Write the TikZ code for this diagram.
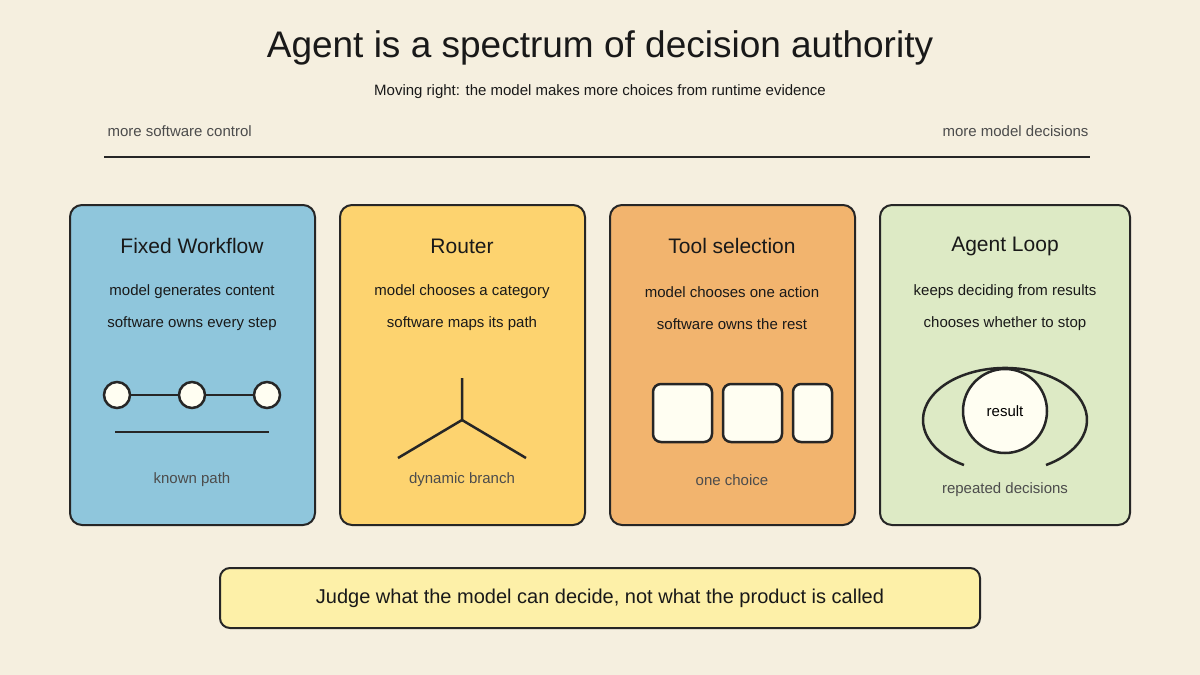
\documentclass[tikz,border=0pt]{standalone}
\usepackage{fontspec}
\setmainfont{Liberation Sans}
\begin{document}
\begin{tikzpicture}[x=1pt,y=-1pt,
 panel/.style={draw=black!85,line width=2pt,rounded corners=12pt},
 ttl/.style={font=\fontsize{21}{24}\selectfont,text=black!90},
 sub/.style={font=\fontsize{15}{18}\selectfont,text=black!90},
 lbl/.style={font=\fontsize{15}{18}\selectfont,text=black!70},
 ln/.style={draw=black!85,line width=2.5pt},
 wbox/.style={draw=black!85,line width=2.5pt,fill=white!95!yellow}]
\fill[fill={rgb,255:red,245;green,239;blue,223}] (0,0) rectangle (1200,675);
\useasboundingbox (0,0) rectangle (1200,675);
\node[font=\fontsize{37}{42}\selectfont,text=black!90] (title) at (600,48) {Agent is a spectrum of decision authority};
\node[sub] (subt) at (600,92) {Moving right: the model makes more choices from runtime evidence};
\node[lbl,anchor=west] (l) at (104,131) {more software control};
\node[lbl,anchor=east] (r) at (1092,131) {more model decisions};
\coordinate (a1) at (104,157); \coordinate (a2) at (1090,157);
\draw[ln] (a1) -- (a2);
% panels
\draw[panel,fill={rgb,255:red,143;green,198;blue,220}] (70,205) rectangle (315,525);
\draw[panel,fill={rgb,255:red,253;green,211;blue,111}] (340,205) rectangle (585,525);
\draw[panel,fill={rgb,255:red,242;green,180;blue,110}] (610,205) rectangle (855,525);
\draw[panel,fill={rgb,255:red,221;green,234;blue,197}] (880,205) rectangle (1130,525);
\foreach \cx/\t/\a/\b/\c/\cy in {192/Fixed Workflow/model generates content/software owns every step/known path/480,
 462/Router/model chooses a category/software maps its path/dynamic branch/480,
 732/Tool selection/model chooses one action/software owns the rest/one choice/480,
 1005/Agent Loop/keeps deciding from results/chooses whether to stop/repeated decisions/490}{
 \node[ttl] at (\cx,246) {\t};
 \node[sub] at (\cx,292) {\a};
 \node[sub] at (\cx,324) {\b};
 \node[lbl] at (\cx,\cy) {\c};
}
% fixed workflow
\node[wbox,circle,minimum size=26pt,inner sep=0pt] (c1) at (117,395) {};
\node[wbox,circle,minimum size=26pt,inner sep=0pt] (c2) at (192,395) {};
\node[wbox,circle,minimum size=26pt,inner sep=0pt] (c3) at (267,395) {};
\draw[ln] (c1) -- (c2); \draw[ln] (c2) -- (c3);
\coordinate (p1) at (115,432); \coordinate (p2) at (269,432);
\draw[ln] (p1) -- (p2);
% router
\coordinate (r0) at (462,378); \coordinate (rc) at (462,420);
\coordinate (rl) at (398,458); \coordinate (rr) at (526,458);
\draw[ln] (r0) -- (rc) -- (rl); \draw[ln] (rc) -- (rr);
% tools
\draw[wbox,rounded corners=8pt] (653,384) rectangle (712,442);
\draw[wbox,rounded corners=8pt] (723,384) rectangle (782,442);
\draw[wbox,rounded corners=8pt] (793,384) rectangle (832,442);
% loop
\draw[ln] (964,465) arc[start angle=120,end angle=420,x radius=82,y radius=52];
\node[wbox,circle,minimum size=84pt,inner sep=0pt,font=\fontsize{15}{18}\selectfont] (res) at (1005,411) {result};
% bottom
\node[draw=black!85,line width=2pt,rounded corners=10pt,fill={rgb,255:red,253;green,240;blue,168},minimum width=760pt,minimum height=60pt,font=\fontsize{20}{24}\selectfont,text=black!90] (judge) at (600,598) {Judge what the model can decide, not what the product is called};
\end{tikzpicture}
\end{document}
